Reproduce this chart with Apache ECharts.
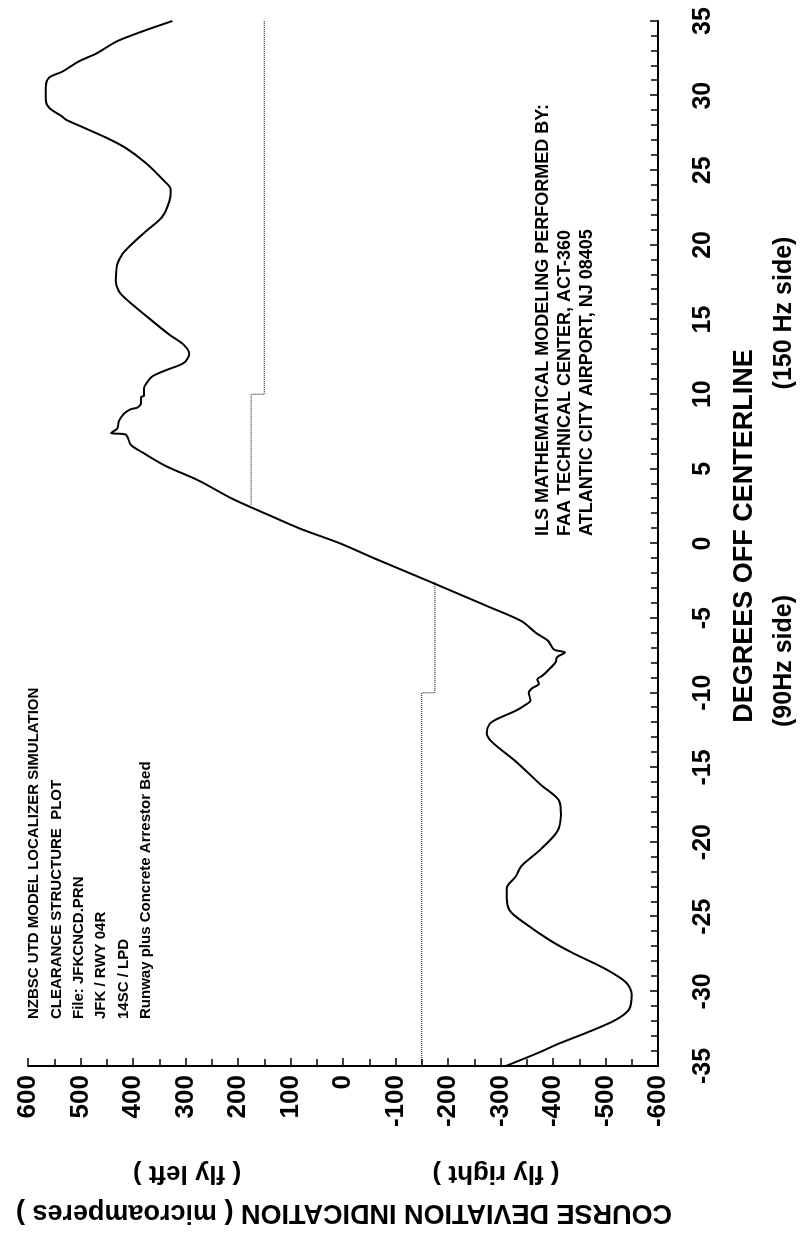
<!DOCTYPE html>
<html><head><meta charset="utf-8">
<script src="https://cdn.jsdelivr.net/npm/echarts@6.0.0/dist/echarts.min.js"></script>
<style>
html,body{margin:0;padding:0;background:#fff;overflow:hidden;width:801px;height:1241px;}
#chart{position:absolute;left:0;top:0;width:1241px;height:801px;transform-origin:0 0;transform:translate(0,1241px) rotate(-90deg);}
</style></head><body><div id="chart"></div>
<script>
// Course deviation (microamperes) versus degrees off centerline
const degrees = [-35,-34.1,-33.5,-32.7,-31.9,-31.2,-30.2,-29.4,-28.5,-27.4,-26.6,-25.4,-24.6,-23.7,-23.1,-22.3,-21.6,-20.6,-19.3,-18.2,-17.2,-16.2,-14.6,-13.3,-12.7,-12.1,-11.8,-11.2,-10.8,-10.5,-10.0,-9.7,-9.4,-9.1,-8.85,-8.45,-7.95,-7.6,-7.3,-7.1,-6.5,-6.0,-5.2,-4.2,-3.0,-2.0,-1.0,0,1.0,1.9,3.0,4.2,5.2,6.1,6.6,7.3,7.4,7.7,8.2,8.7,9.0,9.1,9.4,9.8,9.9,10.4,10.8,11.2,11.6,12.1,12.7,13.3,14.0,15.1,16.4,16.9,17.6,18.7,19.4,20.1,20.9,21.9,22.9,23.7,24.4,25.5,26.5,27.2,28.0,28.4,28.6,29.2,29.8,30.5,31.2,31.6,32.3,32.8,33.7,35.0];
const cdi = [-310,-373,-411,-469,-520,-545,-550,-539,-500,-436,-395,-345,-318,-312,-312,-329,-340,-373,-408,-415,-411,-378,-329,-284,-274,-279,-291,-329,-348,-357,-354,-360,-373,-370,-380,-392,-405,-408,-423,-402,-390,-368,-340,-275,-195,-128,-60,5,82,141,211,274,338,382,404,414,442,430,427,417,404,392,385,385,379,379,373,363,338,303,293,303,331,370,414,427,433,430,420,401,376,344,331,328,344,376,414,452,503,528,535,560,566,566,560,535,503,471,427,325];
// clearance limit lines (dotted)
const limitPosDeg = [2.6, 10, 10, 35];
const limitPosVal = [175, 175, 150, 150];
const limitNegDeg = [-35, -10, -10, -2.6];
const limitNegVal = [-150, -150, -175, -175];
const noteLeft = ['NZBSC UTD MODEL LOCALIZER SIMULATION','CLEARANCE STRUCTURE  PLOT','File: JFKCNCD.PRN','JFK / RWY 04R','14SC / LPD','Runway plus Concrete Arrestor Bed'];
const noteRight = ['ILS MATHEMATICAL MODELING PERFORMED BY:','FAA TECHNICAL CENTER, ACT-360','ATLANTIC CITY AIRPORT, NJ 08405'];

const FF = '"Liberation Sans", Arial, sans-serif';
const chart = echarts.init(document.getElementById('chart'), null, {renderer:'canvas'});
const zip = (a,b) => a.map((v,i)=>[v,b[i]]);
const graphics = [];
function txt(x,y,text,size,weight,rot,align){
  graphics.push({type:'text', x:x, y:y, rotation:rot||0, silent:true,
    style:{text:text, fill:'#000', font: (weight||'normal')+' '+size+'px '+FF,
      align:align||'center', verticalAlign:'middle', textAlign:align||'center', textVerticalAlign:'middle'}});
}
txt(29, 344, 'COURSE DEVIATION INDICATION ( microamperes )', 27, 'bold', Math.PI/2);
txt(68, 187, '( fly left )', 26, 'bold', Math.PI/2);
txt(68, 496, '( fly right )', 26, 'bold', Math.PI/2);
txt(705, 745, 'DEGREES OFF CENTERLINE', 27, 'bold', 0);
txt(580, 784, '(90Hz side)', 25, 'bold', 0);
txt(928, 784, '(150 Hz side)', 25, 'bold', 0);
noteLeft.forEach((t,i)=>txt(222, 34 + i*22.4, t, 15, 'bold', 0, 'left'));
noteRight.forEach((t,i)=>txt(705, 543 + i*22, t, 18, 'bold', 0, 'left'));

chart.setOption({
  animation:false,
  backgroundColor:'#fff',
  grid:{left:175, right:21, top:28, bottom:143, containLabel:false},
  xAxis:{type:'value', min:-35, max:35, interval:5,
    axisLine:{onZero:false, lineStyle:{color:'#000', width:2}},
    axisTick:{inside:true, length:8, lineStyle:{color:'#000', width:1.5}},
    minorTick:{show:true, splitNumber:5, length:7, lineStyle:{color:'#000', width:1.5}},
    splitLine:{show:false}, minorSplitLine:{show:false},
    axisLabel:{margin:33, fontSize:25, fontWeight:'bold', color:'#000', fontFamily:FF}},
  yAxis:{type:'value', min:-600, max:600, interval:100,
    axisLine:{onZero:false, lineStyle:{color:'#000', width:2}},
    axisTick:{inside:true, length:8, lineStyle:{color:'#000', width:1.5}},
    minorTick:{show:true, splitNumber:2, length:7, lineStyle:{color:'#000', width:1.5}},
    splitLine:{show:false}, minorSplitLine:{show:false},
    axisLabel:{margin:9, fontSize:26, fontWeight:'bold', color:'#000', fontFamily:FF}},
  graphic: graphics,
  series:[
    {type:'line', data:zip(degrees,cdi), symbol:'none', smooth:0.3, lineStyle:{color:'#000', width:2}},
    {type:'line', data:zip(limitPosDeg,limitPosVal), symbol:'none', lineStyle:{color:'#000', width:1, type:'dotted'}},
    {type:'line', data:zip(limitNegDeg,limitNegVal), symbol:'none', lineStyle:{color:'#000', width:1, type:'dotted'}}
  ]
});
</script></body></html>
